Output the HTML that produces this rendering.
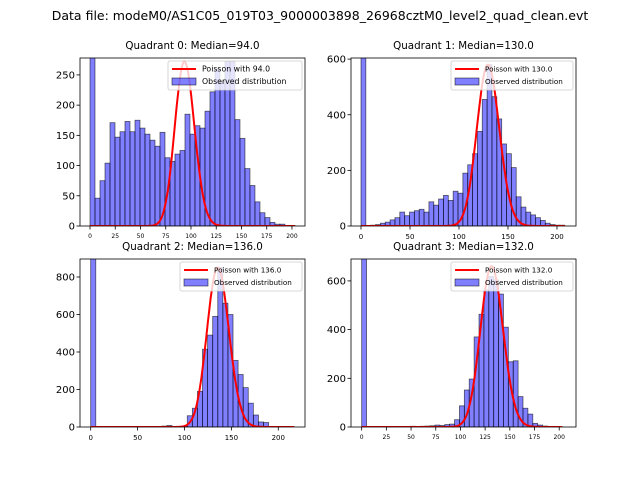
<!DOCTYPE html>
<html><head><meta charset="utf-8"><style>
html,body{margin:0;padding:0;background:#fff;}
svg{display:block;font-family:"DejaVu Sans","Liberation Sans",sans-serif;}
</style></head><body>
<svg id="fig" width="640" height="480" viewBox="0 0 640 480">
<text x="320" y="20" font-size="12.5" text-anchor="middle">Data file: modeM0/AS1C05_019T03_9000003898_26968cztM0_level2_quad_clean.evt</text>
</svg>
<script>
// Quadrant 0
const q0Counts=[290,46,75,104,171,147,156,173,156,175,162,152,142,132,155,113,107,119,125,185,152,166,162,190,222,260,240,272,272,176,145,95,67,40,22,14,6,3,3,1,1];
const q0Median=94, q0Peak=272;
// Quadrant 1
const q1Counts=[650,2,3,5,10,14,22,30,50,37,50,55,60,50,87,75,97,110,92,125,118,190,220,260,340,455,580,465,385,295,260,210,105,68,50,40,30,20,10,5,3,3];
const q1Median=130, q1Peak=580;
// Quadrant 2
const q2Counts=[1000,0,0,0,0,0,0,0,0,0,0,0,0,0,5,8,0,0,5,60,100,190,415,490,590,850,660,600,355,280,210,127,64,27,24,3,2,1,0,1];
const q2Median=136, q2Peak=850;
// Quadrant 3
const q3Counts=[700,0,0,0,0,0,0,0,2,0,3,2,3,4,5,8,6,10,12,30,87,152,197,370,463,563,618,604,546,410,268,272,125,77,53,15,8,4,2,1,1];
const q3Median=132, q3Peak=660;

const xTicks0=[0,25,50,75,100,125,150,175,200];
const xTicks1=[0,50,100,150,200];
const yTicks0=[0,50,100,150,200,250];
const yTicks1=[0,200,400,600];
const yTicks2=[0,200,400,600,800];

const NS="http://www.w3.org/2000/svg";
const svg=document.getElementById('fig');
function mk(tag,attrs,parent){const e=document.createElementNS(NS,tag);for(const k in attrs)e.setAttribute(k,attrs[k]);(parent||svg).appendChild(e);return e;}

function lgamma(n){let s=0;for(let i=2;i<=n;i++)s+=Math.log(i);return s;}

function panel(idx,box,counts,binW,median,peak,xt,yt,xFont,yFont){
  const g=mk('g',{});
  
  
  const X=v=>box.L+(v-box.xmin)/(box.xmax-box.xmin)*(box.R-box.L);
  const Y=v=>box.B-v/box.ymax*(box.B-box.T);
  const clip=mk('clipPath',{id:'c'+idx},g);
  mk('rect',{x:box.L,y:box.T,width:box.R-box.L,height:box.B-box.T},clip);
  const bars=mk('g',{'clip-path':'url(#c'+idx+')'},g);
  counts.forEach((c,i)=>{
    if(c<=0)return;
    const x0=X(i*binW),x1=X((i+1)*binW);
    const r=mk('rect',{x:x0,y:Y(c),width:x1-x0,height:box.B-Y(c),fill:'rgba(0,0,255,0.5)',stroke:'rgba(0,0,0,0.6)','stroke-width':0.8},bars);
    
    
  });
  const lm=Math.log(median);
  const modeLog=Math.floor(median)*lm-median-lgamma(Math.floor(median));
  let pts=[];
  const xEnd=counts.length*binW;
  for(let k=0;k<=Math.round(xEnd);k++){
    const lp=k*lm-median-lgamma(k);
    pts.push(X(k).toFixed(1)+','+Y(peak*Math.exp(lp-modeLog)).toFixed(1));
  }
  const pl=mk('polyline',{points:pts.join(' '),fill:'none',stroke:'#ff0000','stroke-width':2,'clip-path':'url(#c'+idx+')'},g);
  
  
  const fr=mk('rect',{x:box.L,y:box.T,width:box.R-box.L,height:box.B-box.T,fill:'none',stroke:'#000','stroke-width':0.8},g);
  
  
  xt.forEach(t=>{
    const x=X(t);
    mk('line',{x1:x,x2:x,y1:box.B,y2:box.B+3.5,stroke:'#000','stroke-width':0.8},g);
    const tx=mk('text',{x:x,y:box.B+6+xFont,'font-size':xFont,'text-anchor':'middle'},g);
    tx.textContent=t;
    
    
  });
  yt.forEach(t=>{
    const y=Y(t);
    mk('line',{x1:box.L-3.5,x2:box.L,y1:y,y2:y,stroke:'#000','stroke-width':0.8},g);
    const tx=mk('text',{x:box.L-5,y:y+yFont*0.36,'font-size':yFont,'text-anchor':'end'},g);
    tx.textContent=t;
    
    
  });
  const ti=mk('text',{x:(box.L+box.R)/2,y:box.T-9,'font-size':10.3,'text-anchor':'middle'},g);
  ti.textContent='Quadrant '+idx+': Median='+median.toFixed(1);
  
  
  const lg=mk('g',{},g);
  
  
  const lw=box.lw, lx=box.R-3-lw, ly=box.T+3;
  const fs=box.lf;
  mk('rect',{x:lx,y:ly,width:lw,height:29,rx:2,fill:'rgba(255,255,255,0.8)',stroke:'#ccc','stroke-width':0.8},lg);
  mk('line',{x1:lx+4,x2:lx+28,y1:ly+8,y2:ly+8,stroke:'#ff0000','stroke-width':2},lg);
  mk('rect',{x:lx+4,y:ly+17,width:24,height:7,fill:'rgba(0,0,255,0.5)',stroke:'rgba(0,0,0,0.6)','stroke-width':0.8},lg);
  const t1=mk('text',{x:lx+34,y:ly+10.5,'font-size':fs},lg);
  t1.textContent='Poisson with '+median.toFixed(1);
  
  
  const t2=mk('text',{x:lx+34,y:ly+23,'font-size':fs},lg);
  t2.textContent='Observed distribution';
  
  
}
panel(0,{L:80,R:305,T:58,B:226,xmin:-9.9,xmax:212.9,ymax:278,lw:134,lf:7.8},q0Counts,4.95,q0Median,q0Peak,xTicks0,yTicks0,6,10);
panel(1,{L:351,R:576,T:58,B:226,xmin:-10.2,xmax:219.4,ymax:604,lw:122,lf:7.2},q1Counts,4.95,q1Median,q1Peak,xTicks1,yTicks1,7,10);
panel(2,{L:80,R:305,T:259,B:427,xmin:-11.4,xmax:228.5,ymax:896,lw:122,lf:7.2},q2Counts,5.42,q2Median,q2Peak,xTicks1,yTicks2,7,10);
panel(3,{L:351,R:576,T:259,B:427,xmin:-10.8,xmax:217,ymax:690,lw:122,lf:7.2},q3Counts,4.95,q3Median,q3Peak,xTicks0,yTicks1,6,10);
</script>
</body></html>
